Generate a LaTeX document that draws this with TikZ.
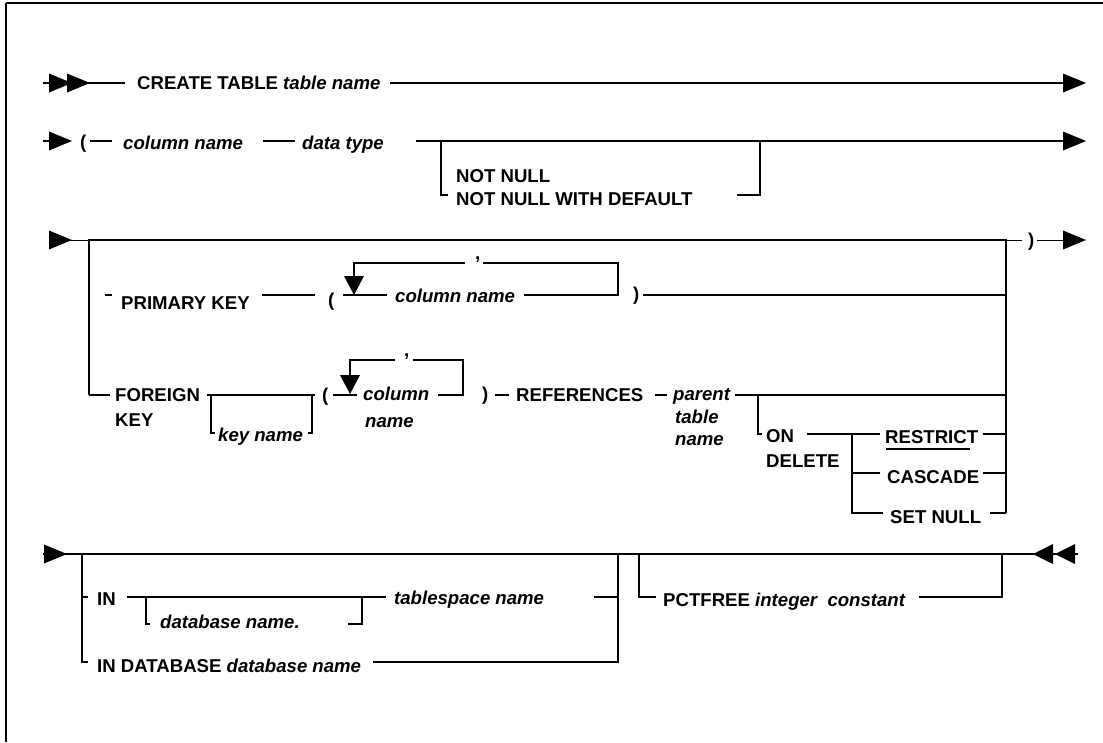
\documentclass[tikz,border=0pt]{standalone}
\usepackage{fontspec}
\setmainfont{Liberation Sans}
\begin{document}
\begin{tikzpicture}[x=1pt,y=-1pt,line join=miter]
\tikzset{
  lbl/.style={font=\fontsize{18.6}{22}\selectfont\bfseries, inner sep=0pt, anchor=base west},
  var/.style={lbl, font=\fontsize{18.6}{22}\selectfont\bfseries\itshape},
  rail/.style={line width=1.8pt},
  hair/.style={line width=1pt},
  frame/.style={line width=1.5pt},
}
\newcommand\tipR[1]{\fill #1 -- ++(-23,-9.5) -- ++(0,19) -- cycle;}
\newcommand\tipL[1]{\fill #1 -- ++(20,-10) -- ++(0,20) -- cycle;}
\newcommand\tipDn[1]{\fill #1 -- ++(-10,-19) -- ++(20,0) -- cycle;}
\useasboundingbox (0,0) rectangle (1103,742);
\fill[white] (0,0) rectangle (1103,742);
% frame
\draw[line width=2.5pt] (6,3) -- (1103,3);
\draw[frame] (6,3) -- (6,742);

% ---------- row 1
\node[lbl] (create) at (137,89) {CREATE TABLE \textit{table name}};
\draw[rail] (43,83) -- (125,83);
\tipR{(72,83)} \tipR{(90,83)}
\draw[rail] (390,83) -- (1070,83);
\tipR{(1086,83)}

% ---------- row 2
\draw[rail] (43,141) -- (60,141);
\tipR{(72,141)}
\node[lbl] (lp1) at (80,148) {(};
\draw[rail] (90,141) -- (112,141);
\node[var] (col1) at (123,149) {column name};
\draw[rail] (263,141) -- (295,141);
\node[var] (dtype) at (302,149) {data type};
\draw[rail] (416,141) -- (1070,141);
\tipR{(1086,141)}
\draw[rail] (441,141) -- (441,195) -- (448,195);
\node[lbl] (nn) at (456,182) {NOT NULL};
\node[lbl] (nnwd) at (456,205) {NOT NULL WITH DEFAULT};
\draw[rail] (737,195) -- (760,195) -- (760,141);

% ---------- row 3
\draw[hair] (50,240) -- (89,240);
\tipR{(72,240)}
\draw[rail] (89,395) -- (89,240) -- (1006,240) -- (1006,513);
\draw[rail] (89,395) -- (110,395);
\draw[hair] (1006,240) -- (1022,240);
\node[lbl] (rp0) at (1028,246) {)};
\draw[hair] (1037,240) -- (1068,240);
\tipR{(1086,240)}

% PRIMARY KEY
\draw[rail] (105,295) -- (112,295);
\node[lbl] (pk) at (121,309) {PRIMARY KEY};
\draw[rail] (262,295) -- (315,295);
\node[lbl] (lp2) at (328,306) {(};
\draw[rail] (343,295) -- (387,295);
\draw[rail] (354,277) -- (354,263) -- (465,263);
\tipDn{(354,295)}
\node[lbl] (cm1) at (475,259) {,};
\draw[rail] (483,263) -- (618,263) -- (618,295) -- (524,295);
\node[var] (col2) at (395,302) {column name};
\node[lbl] (rp1) at (633,300) {)};
\draw[rail] (643,295) -- (1006,295);

% FOREIGN KEY
\node[lbl] (fk1) at (115,401) {FOREIGN};
\node[lbl] (fk2) at (115,426) {KEY};
\draw[rail] (207,395) -- (315,395);
\draw[rail] (211,395) -- (211,433) -- (215,433);
\node[var] (kn) at (218,441) {key name};
\draw[rail] (308,433) -- (312,433) -- (312,395);
\node[lbl] (lp3) at (322,401) {(};
\draw[rail] (333,395) -- (357,395);
\draw[rail] (350,377) -- (350,360) -- (395,360);
\tipDn{(350,394)}
\node[lbl] (cm2) at (404,356) {,};
\draw[rail] (413,360) -- (463,360) -- (463,395) -- (438,395);
\node[var] (col3a) at (363,400) {column};
\node[var] (col3b) at (365,427) {name};
\node[lbl] (rp2) at (482,400) {)};
\draw[rail] (495,395) -- (509,395);
\node[lbl] (refs) at (516,401) {REFERENCES};
\draw[rail] (655,395) -- (667,395);
\node[var] (pt1) at (673,400) {parent};
\node[var] (pt2) at (675,423) {table};
\node[var] (pt3) at (675,445) {name};
\draw[rail] (735,395) -- (1006,395);
\draw[rail] (758,395) -- (758,434) -- (762,434);
\node[lbl] (on) at (766,442) {ON};
\node[lbl] (del) at (766,467) {DELETE};
\draw[rail] (807,434) -- (880,434);
\draw[rail] (852,434) -- (852,513) -- (883,513);
\draw[rail] (852,473) -- (880,473);
\node[lbl] (restrict) at (885,443) {RESTRICT};
\draw[line width=1.3pt] (886,449) -- (970,449);
\node[lbl] (cascade) at (887,483) {CASCADE};
\node[lbl] (setnull) at (890,523) {SET NULL};
\draw[rail] (983,434) -- (1006,434);
\draw[rail] (983,473) -- (1006,473);
\draw[rail] (990,513) -- (1006,513);

% ---------- row 4
\draw[rail] (43,554) -- (1078,554);
\tipR{(67,554)}
\tipL{(1033,554)} \tipL{(1055,554)}
\draw[rail] (82,554) -- (82,662) -- (88,662);
\draw[rail] (82,597) -- (88,597);
\node[lbl] (in) at (97,605) {IN};
\draw[rail] (127,597) -- (386,597);
\draw[rail] (146,597) -- (146,624) -- (150,624);
\node[var] (dbn) at (160,628) {database name.};
\draw[rail] (348,624) -- (362,624) -- (362,597);
\node[var] (tsn) at (394,604) {tablespace name};
\draw[rail] (594,597) -- (618,597);
\draw[rail] (618,554) -- (618,662) -- (373,662);
\node[lbl] (indb) at (97,672) {IN DATABASE \textit{database name}};
\draw[rail] (639,554) -- (639,597) -- (656,597);
\node[lbl] (pct) at (663,606) {PCTFREE \textit{integer\ \ constant}};
\draw[rail] (919,597) -- (1002,597) -- (1002,554);
\end{tikzpicture}
\end{document}
